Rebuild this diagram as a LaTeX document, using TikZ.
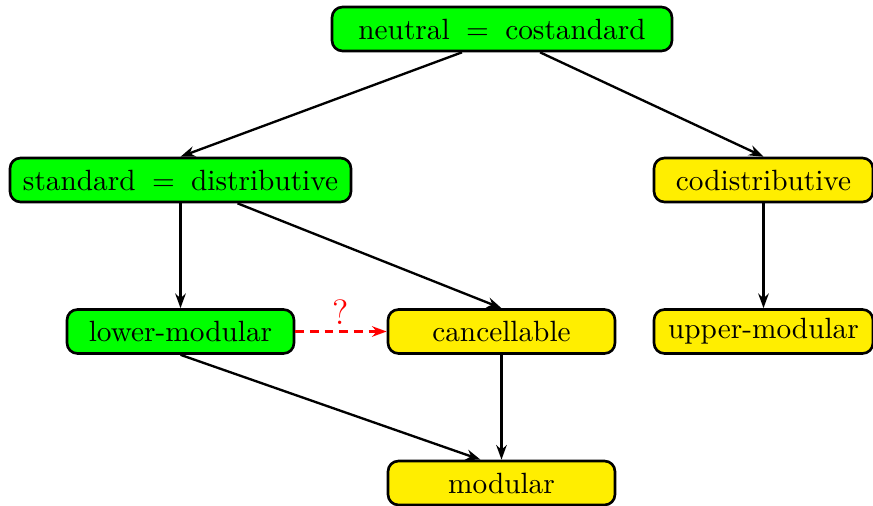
\documentclass[tikz,border=0pt]{standalone}
\usetikzlibrary{arrows.meta,calc}
\definecolor{boxgreen}{RGB}{0,255,0}
\definecolor{boxyellow}{RGB}{255,238,0}
\tikzset{
  box/.style={draw=black, line width=0.9pt, rounded corners=3.6pt, inner sep=0pt, minimum height=44*0.3413pt, text=black},
  gbox/.style={box, fill=boxgreen},
  ybox/.style={box, fill=boxyellow},
  arr/.style={-{Stealth[length=5pt,width=3.6pt]}, line width=0.8pt},
  qarr/.style={-{Stealth[length=5pt,width=3.6pt]}, line width=0.8pt, red, dashed, dash pattern=on 3pt off 2pt}
}
\begin{document}
\begin{tikzpicture}[x=0.3413pt, y=-0.3413pt]
\useasboundingbox (0,0) rectangle (873,506);
\node[gbox, minimum width=340*0.3413pt] (neutral) at (502,29) {neutral\hspace{5.6pt}$=$\hspace{5.6pt}costandard};
\node[gbox, minimum width=341*0.3413pt] (standard) at (180.5,180) {standard\hspace{5.6pt}$=$\hspace{5.6pt}distributive};
\node[ybox, minimum width=219*0.3413pt] (codist) at (763.5,180) {codistributive};
\node[gbox, minimum width=227*0.3413pt] (lower) at (180.5,331.5) {lower-modular};
\node[ybox, minimum width=227*0.3413pt] (cancel) at (501.5,331.5) {cancellable};
\node[ybox, minimum width=219*0.3413pt] (upper) at (763.5,331.5) {upper-modular};
\node[ybox, minimum width=227*0.3413pt] (modular) at (501.5,483) {modular};
\draw[arr] ($(neutral.south)+(-40,0)$) -- (standard.north);
\draw[arr] ($(neutral.south)+(38,0)$) -- (codist.north);
\draw[arr] (standard.south) -- (lower.north);
\draw[arr] ($(standard.south)+(57,0)$) -- (cancel.north);
\draw[arr] (codist.south) -- (upper.north);
\draw[arr] (lower.south) -- ($(modular.north)+(-21,0)$);
\draw[arr] (cancel.south) -- (modular.north);
\draw[qarr] (lower.east) -- node[above=-1.5pt, text=red, font=\large] {?} (cancel.west);
\end{tikzpicture}
\end{document}
